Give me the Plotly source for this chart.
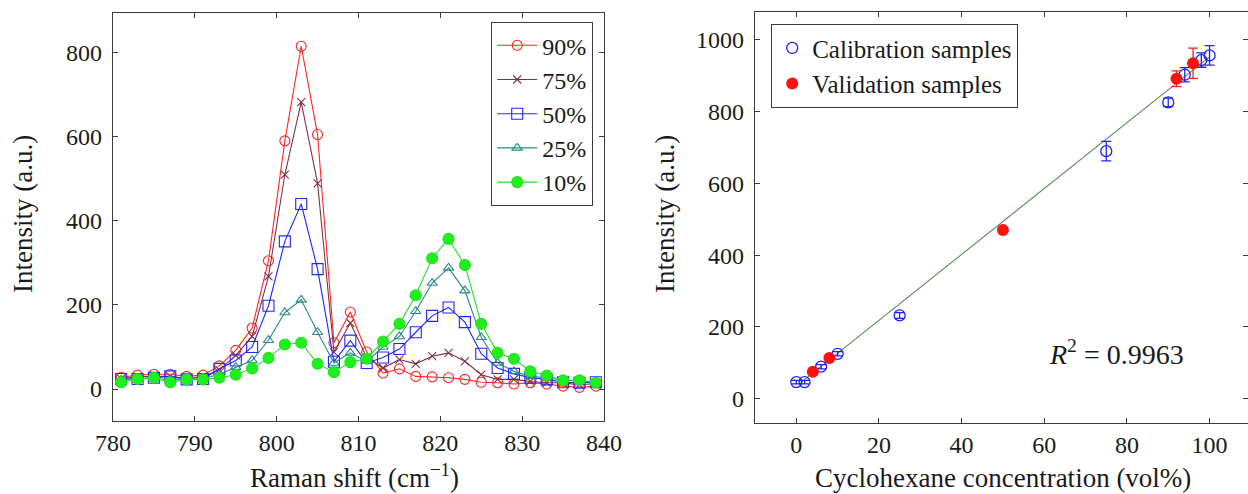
import plotly.graph_objects as go

# ---------------- Data: left panel (Raman spectra) ----------------
raman_shift = [781, 783, 785, 787, 789, 791, 793, 795, 797, 799, 801, 803, 805, 807, 809,
               811, 813, 815, 817, 819, 821, 823, 825, 827, 829, 831, 833, 835, 837, 839]
int_90 = [28, 33, 35, 35, 30, 33, 55, 92, 145, 305, 590, 815, 605, 110, 183,
          88, 38, 48, 30, 29, 27, 23, 16, 15, 12, 15, 12, 7, 4, 7]
int_75 = [25, 29, 30, 30, 25, 29, 45, 80, 125, 268, 510, 682, 489, 88, 157,
          75, 50, 70, 60, 78, 86, 66, 34, 23, 23, 18, 15, 15, 10, 13]
int_50 = [24, 24, 27, 30, 23, 24, 48, 68, 100, 198, 351, 440, 285, 65, 115,
          62, 75, 95, 135, 174, 194, 159, 84, 50, 36, 27, 23, 16, 15, 16]
int_25 = [22, 25, 25, 22, 22, 25, 35, 52, 68, 116, 182, 212, 135, 62, 86,
          66, 100, 125, 185, 252, 288, 234, 123, 62, 42, 30, 27, 21, 20, 16]
int_10 = [16, 24, 27, 16, 23, 23, 27, 34, 49, 74, 106, 110, 60, 40, 64,
          72, 113, 155, 223, 311, 357, 295, 155, 86, 72, 42, 32, 21, 21, 15]

series_names = ["90%", "75%", "50%", "25%", "10%"]

# ---------------- Data: right panel (calibration) ----------------
cal_conc = [0, 2, 6, 10, 25, 75, 90, 94, 98, 100]
cal_int = [46, 46, 89, 125, 232, 690, 826, 903, 944, 957]
cal_err = [5, 5, 6, 6, 8, 27, 12, 20, 20, 27]

val_conc = [4, 8, 50, 92, 96]
val_int = [75, 113, 470, 892, 935]
val_err = [4, 5, 5, 22, 42]

fit_conc = [1, 100]
fit_int = [44, 953]

r2_text = "<i>R</i><sup>2</sup> = 0.9963"

FONT = "Liberation Serif"
FS_TICK = 24
FS_TITLE = 27
FRAME = "#3a3a3a"
TXT = "#1a1a1a"

fig = go.Figure()

styles = [
    dict(color="#ff2424", symbol="circle-open", size=10, fill=None),
    dict(color="#80304a", symbol="x-thin-open", size=8, fill=None),
    dict(color="#2424ff", symbol="square-open", size=11, fill=None),
    dict(color="#2a8888", symbol="triangle-up-open", size=9, fill=None),
    dict(color="#22e022", symbol="circle", size=11, fill="#1ef01e"),
]
for name, ys, st in zip(series_names, [int_90, int_75, int_50, int_25, int_10], styles):
    fig.add_trace(go.Scatter(
        x=raman_shift, y=ys, name=name, mode="lines+markers",
        line=dict(color=st["color"], width=1.1),
        marker=dict(symbol=st["symbol"], size=st["size"],
                    color=st["fill"] if st["fill"] else st["color"],
                    line=dict(color=st["color"], width=1.1)),
        xaxis="x", yaxis="y", legend="legend",
    ))

fig.add_trace(go.Scatter(
    x=fit_conc, y=fit_int, mode="lines", showlegend=False,
    line=dict(color="#5c8a5c", width=1.1), xaxis="x2", yaxis="y2",
))
fig.add_trace(go.Scatter(
    x=cal_conc, y=cal_int, name="Calibration samples", mode="markers",
    marker=dict(symbol="circle-open", size=11, color="#2020ff", line=dict(width=1.3)),
    error_y=dict(type="data", array=cal_err, color="#2020ff", thickness=1.3, width=5),
    xaxis="x2", yaxis="y2", legend="legend2",
))
fig.add_trace(go.Scatter(
    x=val_conc, y=val_int, name="Validation samples", mode="markers",
    marker=dict(symbol="circle", size=12, color="#ff1010"),
    error_y=dict(type="data", array=val_err, color="#ff2020", thickness=1.3, width=5),
    xaxis="x2", yaxis="y2", legend="legend2",
))

axis_common = dict(
    showline=True, linecolor=FRAME, linewidth=1.2, mirror="allticks",
    ticks="inside", ticklen=5, tickcolor=FRAME, tickwidth=1,
    showgrid=False, zeroline=False, automargin=False,
    tickfont=dict(family=FONT, size=FS_TICK, color=TXT),
)

y_dom = [1 - 421 / 494, 1 - 13 / 494]
fig.update_layout(
    width=1248, height=494,
    margin=dict(l=0, r=0, t=0, b=0, autoexpand=False),
    paper_bgcolor="white", plot_bgcolor="white",
    font=dict(family=FONT, size=FS_TICK, color=TXT),
    xaxis=dict(domain=[113 / 1248, 604 / 1248], range=[780, 840], anchor="y",
               tickvals=[780, 790, 800, 810, 820, 830, 840], ticklabelstandoff=0, **axis_common),
    yaxis=dict(domain=y_dom, range=[-76, 894], anchor="x",
               tickvals=[0, 200, 400, 600, 800], ticklabelstandoff=5, **axis_common),
    xaxis2=dict(domain=[755 / 1248, 1.0], range=[-10, 109.3], anchor="y2",
                tickvals=[0, 20, 40, 60, 80, 100], ticklabelstandoff=0, **axis_common),
    yaxis2=dict(domain=[1 - 423 / 494, 1 - 12 / 494], range=[-68, 1078], anchor="x2",
                tickvals=[0, 200, 400, 600, 800, 1000], ticklabelstandoff=5, **axis_common),
    legend=dict(x=593 / 1248, y=1 - 22 / 494, xanchor="right", yanchor="top",
                bgcolor="white", bordercolor=FRAME, borderwidth=1.2,
                font=dict(family=FONT, size=24, color=TXT),
                tracegroupgap=0, itemwidth=40),
    legend2=dict(x=771 / 1248, y=1 - 24 / 494, xanchor="left", yanchor="top",
                 bgcolor="white", bordercolor=FRAME, borderwidth=1.2,
                 font=dict(family=FONT, size=25, color=TXT),
                 itemwidth=30),
    annotations=[
        dict(text="Raman shift (cm<sup>−1</sup>)", x=354 / 1248, y=1 - 476 / 494,
             xref="paper", yref="paper", xanchor="center", yanchor="middle",
             showarrow=False, font=dict(size=FS_TITLE)),
        dict(text="Intensity (a.u.)", x=23 / 1248, y=1 - 214 / 494, textangle=-90,
             xref="paper", yref="paper", xanchor="center", yanchor="middle",
             showarrow=False, font=dict(size=FS_TITLE)),
        dict(text="Cyclohexane concentration (vol%)", x=1003 / 1248, y=1 - 478 / 494,
             xref="paper", yref="paper", xanchor="center", yanchor="middle",
             showarrow=False, font=dict(size=FS_TITLE)),
        dict(text="Intensity (a.u.)", x=665 / 1248, y=1 - 214 / 494, textangle=-90,
             xref="paper", yref="paper", xanchor="center", yanchor="middle",
             showarrow=False, font=dict(size=FS_TITLE)),
        dict(text=r2_text, x=77.5, y=128, xref="x2", yref="y2", showarrow=False,
             xanchor="center", yanchor="middle", font=dict(size=28)),
    ],
)

fig.write_html("out.html")
